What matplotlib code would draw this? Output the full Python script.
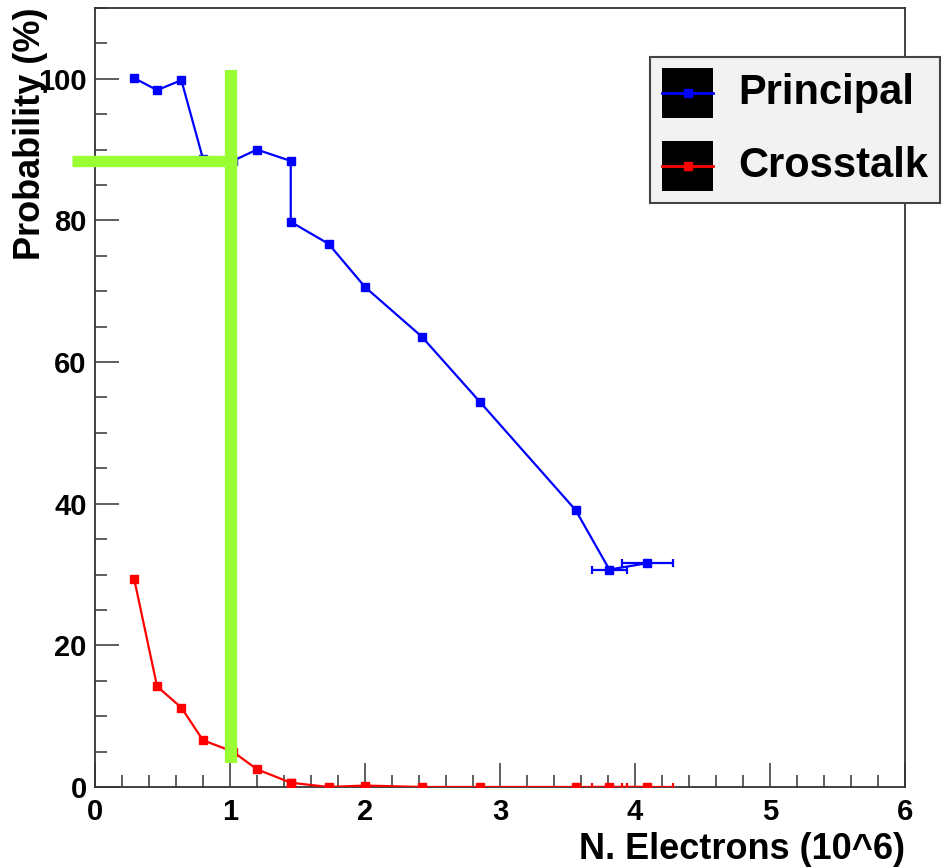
import numpy as np
import matplotlib
matplotlib.use("Agg")
import matplotlib.pyplot as plt
from matplotlib.patches import Rectangle
from matplotlib.lines import Line2D
from matplotlib.ticker import MultipleLocator

plt.rcParams['font.family'] = ['Liberation Sans', 'DejaVu Sans']
plt.rcParams['font.weight'] = 'bold'

# data
n_electrons = [0.29, 0.46, 0.64, 0.80, 1.02, 1.20, 1.45, 1.45, 1.73, 2.00, 2.42, 2.85, 3.56, 3.81, 4.09]
x_err = [0, 0, 0, 0, 0, 0, 0, 0, 0, 0, 0, 0, 0, 0.13, 0.19]
principal = [100.1, 98.4, 99.8, 88.7, 88.4, 90.0, 88.4, 79.8, 76.7, 70.6, 63.6, 54.4, 39.1, 30.7, 31.6]
crosstalk = [29.4, 14.2, 11.2, 6.6, 5.0, 2.5, 0.6, 0.6, 0.0, 0.2, 0.0, 0.0, 0.0, 0.0, 0.0]
labels = ["Principal", "Crosstalk"]

# green marker lines
cut_x = 1.01
cut_y = 88.4
vline_y = (3.4, 101.2)
hline_x = (-0.17, 1.055)

fig = plt.figure(figsize=(9.46, 8.67), dpi=100)
ax = fig.add_axes([0.1004, 0.0923, 0.8563, 0.8985])

x = np.array(n_electrons)
for vals, col in [(principal, '#0000ff'), (crosstalk, '#ff0000')]:
    ax.errorbar(x, vals, xerr=x_err, color=col, marker='s', ms=6, lw=1.6,
                capsize=3, elinewidth=1.6, capthick=1.6, zorder=3)

green = '#99ff33'
ax.plot([cut_x, cut_x], vline_y, color=green, lw=8.8, solid_capstyle='butt', zorder=4)
ax.plot(hline_x, [cut_y, cut_y], color=green, lw=8.2, solid_capstyle='butt',
        zorder=4, clip_on=False)

ax.set_xlim(0, 6)
ax.set_ylim(0, 110)
ax.xaxis.set_major_locator(MultipleLocator(1))
ax.xaxis.set_minor_locator(MultipleLocator(0.2))
ax.yaxis.set_major_locator(MultipleLocator(20))
ax.yaxis.set_minor_locator(MultipleLocator(5))
ax.yaxis.set_major_formatter(matplotlib.ticker.FuncFormatter(lambda v, p: "%d" % v if v <= 100 else ""))
ax.tick_params(which='major', direction='in', length=17, width=1.1, color='#333333',
               labelsize=21, pad=6)
ax.tick_params(which='minor', direction='in', length=8.5, width=1.1, color='#333333')
ax.tick_params(axis='x', pad=8)
for s in ax.spines.values():
    s.set_color('#333333')
    s.set_linewidth(1.3)

ax.set_xlabel("N. Electrons (10^6)", fontsize=26, fontweight='bold', loc='right', labelpad=4)
ax.set_ylabel("Probability (%)", fontsize=26, fontweight='bold', loc='top', labelpad=-7)

# legend drawn by hand in figure pixels (ROOT style)
W, H = 946.0, 867.0
def fx(px): return px / W
def fy(py): return 1 - py / H
tr = fig.transFigure
fig.add_artist(Rectangle((fx(650), fy(203)), fx(940) - fx(650), fy(57) - fy(203),
                         transform=tr, facecolor='#f2f2f2', edgecolor='#444444', lw=1.5))
for i, (lab, col) in enumerate(zip(labels, ['#0000ff', '#ff0000'])):
    top = 68 + i * 73
    fig.add_artist(Rectangle((fx(662), fy(top + 50)), fx(713) - fx(662), fy(top) - fy(top + 50),
                             transform=tr, facecolor='black', edgecolor='none'))
    fig.add_artist(Line2D([fx(662), fx(713)], [fy(top + 25), fy(top + 25)], transform=tr,
                          color=col, lw=2))
    fig.add_artist(Line2D([fx(687.5)], [fy(top + 25)], transform=tr, color=col,
                          marker='s', ms=6, lw=0))
    fig.text(fx(738), fy(top + 25), lab, fontsize=30, fontweight='bold', va='center',
             ha='left')

fig.savefig("out.png", dpi=100)
